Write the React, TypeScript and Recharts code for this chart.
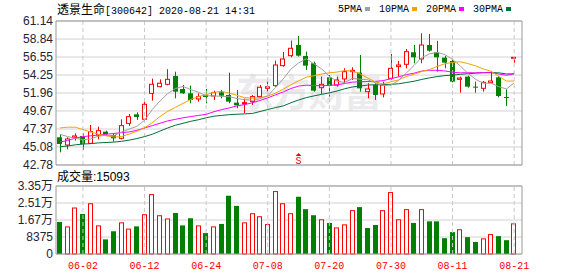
import React from "react";
import {
  ComposedChart,
  Bar,
  Line,
  XAxis,
  YAxis,
  CartesianGrid,
  ReferenceLine,
  ReferenceDot,
} from "recharts";

// trading days shown on the chart
const dates = [
  "05-28", "05-29", "06-01", "06-02", "06-03", "06-04", "06-05", "06-08", "06-09", "06-10",
  "06-11", "06-12", "06-15", "06-16", "06-17", "06-18", "06-19", "06-22", "06-23", "06-24",
  "06-29", "06-30", "07-01", "07-02", "07-03", "07-06", "07-07", "07-08", "07-09", "07-10",
  "07-13", "07-14", "07-15", "07-16", "07-17", "07-20", "07-21", "07-22", "07-23", "07-24",
  "07-27", "07-28", "07-29", "07-30", "07-31", "08-03", "08-04", "08-05", "08-06", "08-07",
  "08-10", "08-11", "08-12", "08-13", "08-14", "08-17", "08-18", "08-19", "08-20", "08-21",
];

const opens = [
  46.31, 45.33, 46.31, 46.48, 45.54, 46.61, 47.03, 46.61, 46.18, 48.09,
  49.24, 48.61, 51.92, 52.77, 53.07, 54.13, 52.47, 51.92, 51.2, 51.71,
  51.58, 52.05, 51.71, 50.73, 50.6, 50.86, 51.5, 52.56, 52.9, 55.45,
  56.72, 58.08, 56.68, 55.75, 52.64, 53.96, 52.98, 53.75, 54.68, 54.56,
  52.13, 52.98, 51.84, 53.83, 55.32, 55.62, 57.15, 56.3, 58.08, 57.15,
  56.47, 56.04, 53.7, 54.05, 52.77, 52.56, 53.28, 53.96, 51.45, 56.5,
];
const closes = [
  45.46, 46.1, 46.48, 45.46, 47.03, 47.16, 46.73, 46.18, 47.8, 48.94,
  48.9, 50.52, 53.07, 53.2, 53.7, 52.13, 51.92, 51.07, 51.5, 51.45,
  52.0, 51.62, 50.86, 50.39, 50.73, 51.5, 52.69, 52.75, 55.53, 56.3,
  57.66, 56.72, 55.45, 52.26, 53.07, 52.9, 53.62, 54.68, 54.85, 52.56,
  52.47, 51.71, 52.98, 55.11, 55.53, 57.23, 56.51, 58.08, 57.36, 56.51,
  55.83, 53.41, 53.87, 52.77, 52.64, 53.32, 53.49, 51.58, 51.37, 56.51,
];
const highs = [
  46.73, 46.31, 46.82, 46.82, 47.88, 47.67, 47.16, 46.82, 48.61, 49.28,
  49.5, 50.82, 53.8, 53.7, 55.0, 54.68, 52.98, 52.9, 51.92, 52.47,
  52.26, 52.35, 54.56, 52.35, 51.24, 51.71, 52.98, 53.41, 56.09, 57.2,
  58.64, 59.23, 57.23, 55.96, 54.05, 54.26, 54.05, 55.11, 55.24, 56.81,
  53.2, 53.2, 53.41, 56.94, 56.04, 57.57, 58.08, 59.57, 59.49, 58.59,
  56.68, 56.17, 54.05, 54.17, 53.41, 53.49, 54.77, 54.13, 52.43, 56.51,
];
const lows = [
  44.4, 44.78, 45.89, 44.7, 45.46, 46.06, 46.48, 45.76, 46.06, 47.75,
  48.52, 48.52, 50.99, 52.69, 52.94, 51.28, 51.84, 50.65, 50.86, 50.65,
  51.07, 51.28, 50.65, 50.01, 49.37, 50.43, 51.41, 52.13, 52.77, 55.32,
  56.51, 56.6, 54.9, 52.13, 51.84, 51.5, 52.77, 53.2, 53.62, 52.13,
  51.28, 51.07, 51.41, 53.62, 54.05, 55.11, 55.75, 55.75, 57.23, 54.68,
  55.11, 53.32, 52.0, 52.64, 52.0, 52.13, 53.2, 51.41, 50.31, 55.83,
];

// moving averages
const ma5 = [
  46.7, 46.4, 46.2, 46.0, 46.11, 46.45, 46.57, 46.51, 46.98, 47.36,
  47.71, 48.47, 49.85, 50.93, 51.88, 52.52, 52.8, 52.4, 52.06, 51.61,
  51.59, 51.53, 51.49, 51.26, 51.12, 51.02, 51.23, 51.61, 52.64, 53.75,
  54.99, 55.79, 56.33, 55.68, 55.03, 54.08, 53.46, 53.31, 53.82, 53.72,
  53.64, 53.25, 52.91, 52.97, 53.56, 54.51, 55.47, 56.49, 56.94, 57.14,
  56.86, 56.24, 55.4, 54.48, 53.7, 53.2, 53.22, 52.76, 52.48, 53.25,
];
const ma10 = [
  47.5, 47.6, 47.6, 47.3, 47.0, 46.7, 46.5, 46.35, 46.4, 46.73,
  47.08, 47.52, 48.18, 48.95, 49.62, 50.12, 50.64, 51.13, 51.5, 51.75,
  52.06, 52.17, 51.95, 51.66, 51.37, 51.3, 51.38, 51.55, 51.95, 52.44,
  53.0, 53.51, 53.97, 54.16, 54.39, 54.53, 54.63, 54.82, 54.75, 54.38,
  53.86, 53.36, 53.11, 53.4, 53.64, 54.07, 54.36, 54.7, 54.95, 55.35,
  55.69, 55.86, 55.94, 55.71, 55.42, 55.03, 54.73, 54.08, 53.48, 53.48,
];
const ma20 = [
  45.7, 45.9, 46.2, 46.4, 46.5, 46.6, 46.7, 46.8, 46.9, 47.0,
  47.2, 47.5, 47.8, 48.1, 48.4, 48.6, 48.8, 48.95, 49.1, 49.24,
  49.57, 49.84, 50.06, 50.31, 50.49, 50.71, 51.01, 51.34, 51.72, 52.09,
  52.53, 52.84, 52.96, 52.91, 52.88, 52.92, 53.0, 53.18, 53.35, 53.41,
  53.43, 53.44, 53.54, 53.78, 54.02, 54.3, 54.49, 54.76, 54.85, 54.86,
  54.77, 54.61, 54.53, 54.55, 54.53, 54.55, 54.55, 54.39, 54.22, 54.41,
];
const ma30 = [
  45.1, 45.2, 45.35, 45.45, 45.5, 45.6, 45.65, 45.7, 45.8, 45.95,
  46.15, 46.4, 46.7, 47.1, 47.5, 47.85, 48.1, 48.35, 48.55, 48.8,
  49.0, 49.1, 49.2, 49.25, 49.3, 49.35, 49.6, 49.85, 50.1, 50.31,
  50.71, 51.07, 51.37, 51.59, 51.79, 51.98, 52.21, 52.5, 52.73, 52.85,
  52.97, 53.01, 53.01, 53.07, 53.13, 53.3, 53.46, 53.69, 53.89, 54.05,
  54.18, 54.24, 54.34, 54.42, 54.49, 54.55, 54.57, 54.53, 54.39, 54.4,
];

// volume (手)
const volumes = [
  15800, 13600, 22900, 19700, 25000, 14100, 7200, 11200, 15600, 12500,
  13600, 19600, 29500, 19100, 17500, 20200, 14100, 17600, 14100, 10300,
  13600, 14800, 28700, 23700, 15600, 20100, 18600, 14800, 31000, 25000,
  20100, 28200, 22100, 19100, 17100, 15300, 13100, 14600, 21600, 23100,
  12800, 14300, 21600, 30500, 17100, 22100, 15300, 22100, 16100, 16100,
  7800, 10800, 12200, 8300, 5900, 7700, 9800, 8800, 6800, 15093,
];

const priceTicks = [42.78, 45.08, 47.37, 49.67, 51.96, 54.25, 56.55, 58.84, 61.14];
const volTicks = [0, 8375, 16750, 25125, 33500];
const volTickLabels = ["0", "8375", "1.67万", "2.51万", "3.35万"];
const dateTicks = ["06-02", "06-12", "06-24", "07-08", "07-20", "07-30", "08-11", "08-21"];

const signalDate = "07-14";
const signalText = "S";

const legendItems = [
  { name: "5PMA", color: "#a0a0a0" },
  { name: "10PMA", color: "#f5a200" },
  { name: "20PMA", color: "#ff00ff" },
  { name: "30PMA", color: "#00703a" },
];

const RED = "#ff0000";
const GREEN = "#008000";
const GRID = "#d2d2d2";
const BORDER = "#999999";
const MONO = "'Liberation Mono', 'Noto Sans CJK SC', monospace";
const SANS = "'Liberation Sans', 'Noto Sans CJK SC', Arial, sans-serif";

const rows = dates.map((date, i) => ({
  date,
  open: opens[i],
  close: closes[i],
  high: highs[i],
  low: lows[i],
  range: [lows[i], highs[i]],
  ma5: ma5[i],
  ma10: ma10[i],
  ma20: ma20[i],
  ma30: ma30[i],
  vol: volumes[i],
  // volume colour follows the change against the previous close
  volUp: i === 0 ? closes[0] >= opens[0] : closes[i] >= closes[i - 1],
}));

// candlestick drawn on top of a [low, high] range bar
const Candle = (props: any) => {
  const { x, y, width, height, payload } = props;
  const top = Math.min(y, y + height);
  const h = Math.abs(height);
  const { open, close, high, low } = payload;
  const up = close >= open;
  const color = up ? RED : GREEN;
  const ratio = high === low ? 0 : h / (high - low);
  const yOpen = top + (high - open) * ratio;
  const yClose = top + (high - close) * ratio;
  const bodyTop = Math.min(yOpen, yClose);
  const bodyH = Math.max(Math.abs(yOpen - yClose), 1);
  const cx = Math.round(x + width / 2) + 0.5;
  const left = Math.round(x);
  return (
    <g>
      <line x1={cx} x2={cx} y1={top} y2={top + h} stroke={color} strokeWidth={1} />
      {up ? (
        <rect x={left + 0.5} y={bodyTop} width={width - 1} height={bodyH} fill="#fff" stroke={color} strokeWidth={1} />
      ) : (
        <rect x={left} y={bodyTop} width={width} height={bodyH} fill={color} />
      )}
    </g>
  );
};

const VolumeBar = (props: any) => {
  const { x, y, width, height, payload } = props;
  const top = Math.min(y, y + height);
  const h = Math.abs(height);
  const left = Math.round(x);
  if (payload.volUp) {
    return <rect x={left + 0.5} y={top + 0.5} width={width - 1} height={Math.max(h - 0.5, 0)} fill="#fff" stroke={RED} strokeWidth={1} />;
  }
  return <rect x={left} y={top} width={width} height={h} fill={GREEN} />;
};

const SignalMark = (props: any) => {
  const { cx, cy } = props;
  return (
    <g>
      <path d={`M${cx - 3},${cy - 9} L${cx},${cy - 12} L${cx + 3},${cy - 9} Z`} fill={RED} />
      <text x={cx} y={cy - 1} textAnchor="middle" fontSize={10} fontFamily={MONO} fill={RED}>
        {signalText}
      </text>
    </g>
  );
};

const yTick = { fontSize: 12, fill: "#1e2433", fontFamily: SANS };

const App: React.FC = () => {
  return (
    <div style={{ position: "absolute", left: 0, top: 0, width: 578, height: 276, background: "#fff", overflow: "hidden" }}>
      {/* faint watermark behind the plot */}
      <div
        style={{
          position: "absolute",
          left: 236,
          top: 68,
          fontSize: 38,
          lineHeight: "44px",
          fontWeight: 700,
          letterSpacing: -2,
          color: "#ebebee",
          fontFamily: "'Noto Sans CJK SC', sans-serif",
        }}
      >
        东方财富
      </div>

      {/* title */}
      <div style={{ position: "absolute", left: 57, top: 2, lineHeight: "14px", color: "#000", whiteSpace: "nowrap" }}>
        <span style={{ fontSize: 12, fontFamily: "'Noto Sans CJK SC', sans-serif" }}>透景生命</span>
        <span style={{ fontSize: 10, fontFamily: MONO }}>[300642] 2020-08-21 14:31</span>
      </div>

      {/* legend */}
      <div style={{ position: "absolute", left: 338, top: 2, display: "flex", alignItems: "center", height: 14 }}>
        {legendItems.map((item) => (
          <div key={item.name} style={{ display: "flex", alignItems: "center", marginRight: 9 }}>
            <span style={{ fontSize: 10, fontFamily: MONO, color: "#000" }}>{item.name}</span>
            <span style={{ display: "inline-block", width: 5, height: 4, marginLeft: 3, background: item.color }} />
          </div>
        ))}
      </div>

      {/* price panel */}
      <div style={{ position: "absolute", left: 0, top: 0 }}>
        <ComposedChart width={578} height={180} data={rows} margin={{ top: 21, right: 0, bottom: 15, left: 0 }}>
          <CartesianGrid vertical={false} stroke={GRID} />
          <XAxis dataKey="date" hide padding={{ left: 0, right: 4 }} />
          <YAxis
            domain={[priceTicks[0], priceTicks[priceTicks.length - 1]]}
            ticks={priceTicks}
            interval={0}
            width={56}
            tickLine={false}
            tickSize={1}
            tickMargin={2}
            axisLine={{ stroke: BORDER }}
            tick={yTick}
            tickFormatter={(v: number) => v.toFixed(2)}
          />
          <YAxis
            yAxisId="right"
            orientation="right"
            domain={[priceTicks[0], priceTicks[priceTicks.length - 1]]}
            width={56}
            tick={false}
            tickLine={false}
            axisLine={{ stroke: BORDER }}
          />
          {dateTicks.map((d) => (
            <ReferenceLine key={d} x={d} stroke="#c8c8c8" strokeDasharray="4 3" />
          ))}
          <ReferenceLine y={priceTicks[0]} stroke={BORDER} />
          <ReferenceLine y={priceTicks[priceTicks.length - 1]} stroke={BORDER} />
          <Line type="linear" dataKey="ma30" stroke="#00703a" strokeWidth={1} dot={false} isAnimationActive={false} />
          <Line type="linear" dataKey="ma20" stroke="#ff00ff" strokeWidth={1} dot={false} isAnimationActive={false} />
          <Line type="linear" dataKey="ma10" stroke="#f5a200" strokeWidth={1} dot={false} isAnimationActive={false} />
          <Line type="linear" dataKey="ma5" stroke="#a0a0a0" strokeWidth={1} dot={false} isAnimationActive={false} />
          <Bar dataKey="range" barSize={5} shape={Candle} isAnimationActive={false} />
          <ReferenceDot x={signalDate} y={priceTicks[0]} r={0} shape={SignalMark} />
        </ComposedChart>
      </div>

      {/* volume title */}
      <div style={{ position: "absolute", left: 57, top: 169, lineHeight: "14px", fontSize: 12, whiteSpace: "nowrap", color: "#000" }}>
        <span style={{ fontFamily: "'Noto Sans CJK SC', sans-serif" }}>成交量</span>
        <span style={{ fontFamily: SANS }}>:15093</span>
      </div>

      {/* volume panel */}
      <div style={{ position: "absolute", left: 0, top: 170 }}>
        <ComposedChart width={578} height={106} data={rows} margin={{ top: 16, right: 0, bottom: 2, left: 0 }}>
          <CartesianGrid vertical={false} stroke={GRID} />
          <XAxis
            dataKey="date"
            ticks={dateTicks}
            interval={0}
            height={20}
            tickLine={false}
            axisLine={{ stroke: BORDER }}
            padding={{ left: 0, right: 4 }}
            tick={{ fontSize: 10, fill: RED, fontFamily: MONO }}
          />
          <YAxis
            domain={[volTicks[0], volTicks[volTicks.length - 1]]}
            ticks={volTicks}
            interval={0}
            width={56}
            tickLine={false}
            tickSize={1}
            tickMargin={2}
            axisLine={{ stroke: BORDER }}
            tick={yTick}
            tickFormatter={(v: number, i: number) => volTickLabels[i]}
          />
          <YAxis
            yAxisId="right"
            orientation="right"
            domain={[volTicks[0], volTicks[volTicks.length - 1]]}
            width={56}
            tick={false}
            tickLine={false}
            axisLine={{ stroke: BORDER }}
          />
          {dateTicks.map((d) => (
            <ReferenceLine key={d} x={d} stroke="#c8c8c8" strokeDasharray="4 3" />
          ))}
          <ReferenceLine y={volTicks[volTicks.length - 1]} stroke={BORDER} />
          <Bar dataKey="vol" barSize={5} shape={VolumeBar} isAnimationActive={false} />
        </ComposedChart>
      </div>
    </div>
  );
};

export default App;
